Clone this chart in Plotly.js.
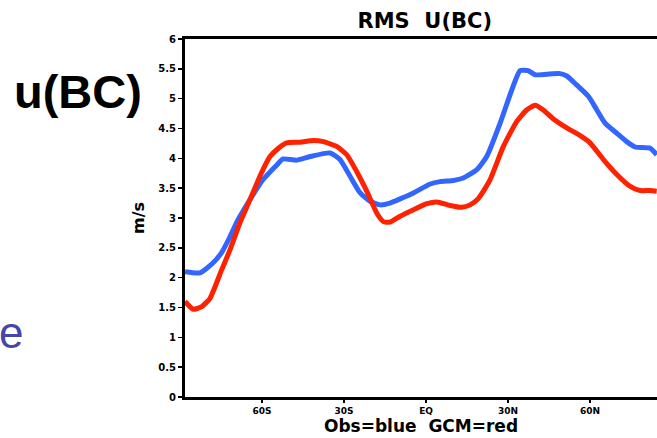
<!DOCTYPE html>
<html>
<head>
<meta charset="utf-8">
<script src="https://cdn.plot.ly/plotly-3.0.1.min.js"></script>
<style>html,body{margin:0;padding:0;background:#fff;}#chart{width:657px;height:438px;}</style>
</head>
<body>
<div id="chart"></div>
<script>
// Observations (blue)
const obsLat = [-88.2,-82.7,-77.9,-74.8,-71.7,-68.8,-64.4,-59.7,-54.6,-52.3,-47.3,-42.4,-35.1,-31.5,-27.8,-24.1,-20.5,-16.8,-13.2,-9.5,-4.6,1.5,5.1,10.0,13.6,18.6,22.2,27.1,31.4,34.4,37.4,39.9,44.2,49.0,51.5,55.1,59.4,62.5,65.5,69.8,73.4,76.5,82.0,84.4];
const obsVal = [2.10,2.08,2.25,2.42,2.69,2.97,3.31,3.64,3.89,3.99,3.97,4.03,4.09,3.98,3.70,3.42,3.28,3.22,3.25,3.32,3.42,3.57,3.61,3.63,3.67,3.81,4.03,4.59,5.15,5.47,5.47,5.40,5.41,5.42,5.38,5.23,5.04,4.81,4.59,4.42,4.28,4.19,4.17,4.06];
// GCM (red)
const gcmLat = [-88.2,-85.2,-82.2,-79.1,-74.8,-71.7,-68.1,-64.4,-60.8,-57.1,-54.0,-51.0,-46.1,-41.2,-37.6,-32.7,-29.0,-25.4,-21.7,-18.0,-15.6,-13.2,-9.5,-4.6,0.3,3.9,8.8,13.1,16.1,19.2,23.4,28.3,33.2,36.8,39.9,42.9,46.6,51.5,56.4,60.0,64.9,69.8,74.7,78.3,82.0,84.4];
const gcmVal = [1.60,1.47,1.51,1.65,2.13,2.47,2.92,3.31,3.70,4.03,4.17,4.26,4.27,4.30,4.28,4.20,4.06,3.78,3.45,3.08,2.94,2.93,3.03,3.14,3.24,3.27,3.21,3.18,3.22,3.33,3.64,4.20,4.62,4.81,4.89,4.81,4.66,4.51,4.38,4.26,3.98,3.73,3.53,3.46,3.46,3.45];
const xTickVals = [-60,-30,0,30,60];
const xTickText = ['60S','30S','EQ','30N','60N'];
const yTickVals = [0,0.5,1,1.5,2,2.5,3,3.5,4,4.5,5,5.5,6];
const yTickText = ['0','0.5','1','1.5','2','2.5','3','3.5','4','4.5','5','5.5','6'];

const FONT = 'DejaVu Sans, Verdana, sans-serif';
const data = [
  {x: obsLat, y: obsVal, type: 'scatter', mode: 'lines', line: {color: '#3366ff', width: 5, shape: 'spline', smoothing: 0.5}, hoverinfo: 'skip'},
  {x: gcmLat, y: gcmVal, type: 'scatter', mode: 'lines', line: {color: '#ff2200', width: 5, shape: 'spline', smoothing: 0.5}, hoverinfo: 'skip'}
];
const layout = {
  width: 657, height: 438,
  margin: {l: 185, r: 0, t: 39, b: 41},
  paper_bgcolor: '#ffffff', plot_bgcolor: '#ffffff',
  showlegend: false,
  font: {family: FONT, color: '#000'},
  xaxis: {
    range: [-88.2, 84.5], showgrid: false, zeroline: false,
    showline: true, linecolor: '#000', linewidth: 3, mirror: true,
    tickmode: 'array', tickvals: xTickVals, ticktext: xTickText,
    ticks: 'outside', ticklen: 3, tickwidth: 1.5, tickcolor: '#000',
    tickfont: {size: 9, family: FONT, weight: 'bold'},
    title: {text: 'Obs=blue  GCM=red', font: {size: 17, family: FONT, weight: 'bold'}, standoff: 6}
  },
  yaxis: {
    range: [0, 6], showgrid: false, zeroline: false,
    showline: true, linecolor: '#000', linewidth: 3,
    tickmode: 'array', tickvals: yTickVals, ticktext: yTickText,
    ticks: 'outside', ticklen: 4, tickwidth: 1.5, tickcolor: '#000',
    tickfont: {size: 10, family: FONT, weight: 'bold'},
    title: {text: 'm/s', font: {size: 16, family: FONT, weight: 'bold'}, standoff: 10}
  },
  title: {text: 'RMS  U(BC)', font: {size: 21, family: FONT, weight: 'bold'}, x: 0.508, xref: 'paper', xanchor: 'center', y: 0.952, yref: 'container', yanchor: 'middle'},
  annotations: [
    {text: 'u(BC)', xref: 'paper', yref: 'paper', x: -0.2267, y: 0.852, xanchor: 'center', yanchor: 'middle', showarrow: false, font: {size: 47, family: 'Liberation Sans, Arial, sans-serif', weight: 'bold', color: '#000'}},
    {text: 'e', xref: 'paper', yref: 'paper', x: -0.399, y: 0.18, xanchor: 'left', yanchor: 'middle', showarrow: false, font: {size: 44, family: 'Liberation Sans, Arial, sans-serif', color: '#4545aa'}}
  ]
};
Plotly.newPlot('chart', data, layout, {staticPlot: true, displayModeBar: false});
</script>
</body>
</html>
